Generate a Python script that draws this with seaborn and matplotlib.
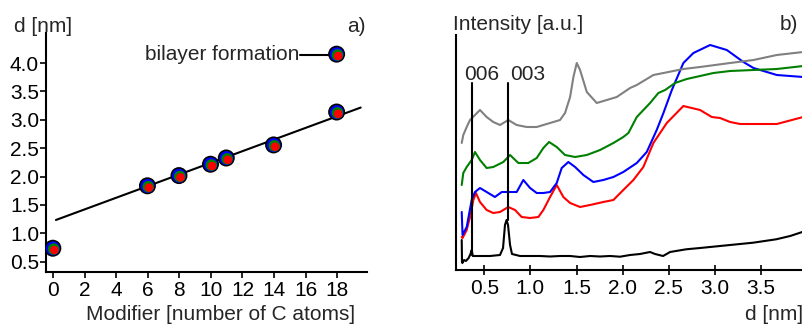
import numpy as np
import pandas as pd
import matplotlib
matplotlib.use("Agg")
import matplotlib.pyplot as plt
import matplotlib.transforms as mtransforms
import seaborn as sns

sns.set_theme(style="ticks")
plt.rcParams['font.family'] = ['Liberation Sans', 'DejaVu Sans']

# ---------------- panel a) data ----------------
c_atoms = [0, 6, 8, 10, 11, 14, 18]
d_spacing = [0.73, 1.83, 2.01, 2.21, 2.32, 2.55, 3.13]
bilayer_x = [18]
bilayer_d = [4.15]
fit_x = [0.17, 19.5]
fit_d = [1.235, 3.216]
bilayer_line_x = [15.67, 18]
bilayer_line_d = [4.15, 4.15]
a_xticks = [0, 2, 4, 6, 8, 10, 12, 14, 16, 18]
a_yticks = [0.5, 1.0, 1.5, 2.0, 2.5, 3.0, 3.5, 4.0]

# ---------------- panel b) data ----------------
black_d = [0.255, 0.258, 0.262, 0.28, 0.30, 0.33, 0.35, 0.363, 0.375, 0.453, 0.562, 0.670, 0.703,
           0.724, 0.741, 0.757, 0.779, 0.800, 0.887, 0.996, 1.104, 1.213, 1.321, 1.430, 1.538,
           1.646, 1.755, 1.863, 1.972, 2.080, 2.188, 2.297, 2.351, 2.438, 2.514, 2.688, 2.839,
           3.056, 3.273, 3.414, 3.664, 3.816, 3.957]
black_i = [30, 8, 7, 10, 9, 12, 16, 20, 14, 14, 14, 15, 22,
           45, 50, 45, 25, 16, 14, 14, 14, 13.5, 14, 14, 13,
           14, 13.5, 14, 13.3, 15, 16, 18, 16, 14, 18, 20.7, 22,
           24, 26, 27.3, 30.7, 34, 38.3]

red_d = [0.255, 0.264, 0.309, 0.345, 0.381, 0.409, 0.453, 0.525, 0.597, 0.670, 0.760, 0.833,
         0.905, 0.996, 1.086, 1.140, 1.213, 1.285, 1.357, 1.430, 1.538, 1.646, 1.790, 1.899,
         2.007, 2.116, 2.224, 2.333, 2.478, 2.658, 2.839, 2.966, 3.056, 3.165, 3.273, 3.671, 3.957]
red_i = [33, 32, 40, 53, 70, 77, 68, 60, 57, 58, 63, 60,
         53, 52, 53, 60, 73, 85, 73, 67, 63, 65, 68, 70,
         80, 90, 103, 127, 147, 164, 160, 153, 152, 148, 146, 146, 153]

blue_d = [0.255, 0.264, 0.309, 0.363, 0.399, 0.453, 0.525, 0.615, 0.689, 0.779, 0.851, 0.923,
          0.996, 1.068, 1.140, 1.213, 1.285, 1.339, 1.411, 1.484, 1.574, 1.682, 1.790, 1.899,
          2.007, 2.153, 2.261, 2.369, 2.442, 2.533, 2.658, 2.767, 2.948, 3.129, 3.309, 3.418,
          3.671, 3.957]
blue_i = [58, 35, 43, 70, 78, 82, 78, 73, 78, 78, 78, 90,
          82, 77, 77, 78, 87, 102, 108, 103, 95, 88, 90, 93,
          98, 107, 118, 140, 157, 180, 207, 217, 225, 220, 208, 202,
          195, 193]

green_d = [0.255, 0.272, 0.309, 0.363, 0.399, 0.453, 0.525, 0.597, 0.706, 0.779, 0.869, 0.977,
           1.068, 1.140, 1.202, 1.285, 1.375, 1.484, 1.611, 1.755, 1.899, 2.007, 2.062, 2.153,
           2.297, 2.387, 2.460, 2.568, 2.695, 2.984, 3.165, 3.418, 3.671, 3.957]
green_i = [85, 97, 103, 110, 118, 110, 102, 103, 108, 115, 107, 107,
           112, 122, 128, 123, 115, 113, 115, 120, 127, 133, 137, 153,
           167, 177, 180, 187, 191, 197, 199, 200, 201, 204]

gray_d = [0.255, 0.272, 0.309, 0.345, 0.399, 0.453, 0.525, 0.597, 0.670, 0.760, 0.851, 0.960,
          1.068, 1.213, 1.321, 1.375, 1.430, 1.466, 1.502, 1.538, 1.611, 1.719, 1.828, 1.936,
          2.080, 2.153, 2.333, 2.442, 2.658, 2.839, 3.165, 3.418, 3.671, 3.957]
gray_i = [127, 135, 143, 150, 155, 160, 153, 148, 145, 150, 145, 143,
          143, 147, 150, 157, 173, 193, 207, 200, 178, 167, 170, 173,
          182, 185, 195, 197, 201, 203, 207, 210, 215, 218]

peak_labels = ["006", "003"]
peak_d = [0.363, 0.752]
peak_top = [187, 187]
peak_bottom = [15, 50]
b_xticks = [0.5, 1.0, 1.5, 2.0, 2.5, 3.0, 3.5]

W, H = 803, 324
fig = plt.figure(figsize=(W / 100, H / 100), dpi=100)

def fx(px):
    return px / W

def fy(py):
    return 1 - py / H

# ---------------- panel a ----------------
axa = fig.add_axes([fx(46), fy(271.5), fx(367 - 46), (271.5 - 33) / H])
sns.lineplot(x=fit_x, y=fit_d, ax=axa, color='black', lw=1.5, sort=False, estimator=None)
sns.lineplot(x=bilayer_line_x, y=bilayer_line_d, ax=axa, color='black', lw=1.5, sort=False, estimator=None)
allx = c_atoms + bilayer_x
ally = d_spacing + bilayer_d
for col, size, dx, dy in [('black', 17, -0.3, 0.3), ('blue', 14, -0.2, 0.2),
                          ('green', 11.5, 0.3, -0.3), ('red', 8.5, 0.8, -1.0)]:
    sns.scatterplot(x=allx, y=ally, ax=axa, color=col, s=(size * 0.72) ** 2,
                    edgecolor='none', linewidth=0, zorder=3)
    coll = axa.collections[-1]
    coll.set_offset_transform(axa.transData + mtransforms.ScaledTranslation(dx / 72, dy / 72, fig.dpi_scale_trans))
axa.text(15.6, 4.15, "bilayer formation", ha='right', va='center', fontsize=15)
axa.set_xlim(-0.46, 19.9)
axa.set_ylim(0.327, 4.53)
axa.set_xticks(a_xticks)
axa.set_yticks(a_yticks)
axa.set_yticklabels([f"{v:.1f}" for v in a_yticks])
sns.despine(ax=axa)
for s in ['left', 'bottom']:
    axa.spines[s].set_linewidth(1.5)
    axa.spines[s].set_color('black')
axa.tick_params(axis='both', direction='out', length=4, width=1.2, labelsize=15, colors='black')
axa.tick_params(axis='y', pad=1)
axa.tick_params(axis='x', pad=3)
fig.text(fx(14), fy(27), "d [nm]", ha='left', va='center', fontsize=15)
fig.text(fx(366), fy(27), "a)", ha='right', va='center', fontsize=15)
fig.text(fx(221), fy(314), "Modifier [number of C atoms]", ha='center', va='center', fontsize=15)

# ---------------- panel b ----------------
axb = fig.add_axes([fx(456), fy(270), fx(803 - 456), (270 - 35) / H])
for d, i, col in [(black_d, black_i, 'black'), (red_d, red_i, 'red'), (blue_d, blue_i, 'blue'),
                  (green_d, green_i, 'green'), (gray_d, gray_i, 'gray')]:
    sns.lineplot(x=d, y=i, ax=axb, color=col, lw=1.5, sort=False, estimator=None)
for lab, pd_, top, bot in zip(peak_labels, peak_d, peak_top, peak_bottom):
    axb.plot([pd_, pd_], [bot, top], color='black', lw=1.5)
axb.text(peak_d[0] + 0.11, 195, peak_labels[0], ha='center', va='center', fontsize=15)
axb.text(peak_d[1] + 0.22, 195, peak_labels[1], ha='center', va='center', fontsize=15)
axb.set_xlim(0.193, 3.955)
axb.set_ylim(0, 235)
axb.set_xticks(b_xticks)
axb.set_xticklabels([f"{v:.1f}" for v in b_xticks])
axb.set_yticks([])
sns.despine(ax=axb)
for s in ['left', 'bottom']:
    axb.spines[s].set_linewidth(1.5)
    axb.spines[s].set_color('black')
axb.tick_params(axis='x', direction='inout', length=7, width=1.2, labelsize=15, colors='black', pad=3)
fig.text(fx(453), fy(25), "Intensity [a.u.]", ha='left', va='center', fontsize=15)
fig.text(fx(798), fy(25), "b)", ha='right', va='center', fontsize=15)
fig.text(fx(803), fy(314), "d [nm]", ha='right', va='center', fontsize=15)

fig.savefig("out.png", dpi=100)
